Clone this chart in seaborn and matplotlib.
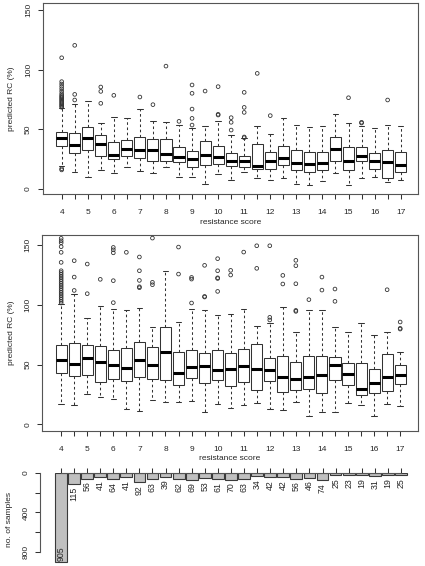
import numpy as np
import pandas as pd
import matplotlib.pyplot as plt
import seaborn as sns

# ─── style ───
sns.set_style('ticks')
plt.rcParams['font.family'] = ['Liberation Sans', 'DejaVu Sans']
plt.rcParams['font.size'] = 6
LINE = '#333333'
FRAME = '#555555'

# ─── data ───
scores = [4, 4.5, 5, 5.5, 6, 6.5, 7, 7.5, 8, 8.5, 9, 9.5, 10, 10.5,
          11, 11.5, 12, 12.5, 13, 13.5, 14, 14.5, 15, 15.5, 16, 16.5, 17]

# upper panel: whisker low, Q1, median, Q3, whisker high, outliers
top_lo = [19, 14, 9.8, 15.6, 13.7, 18.7, 15.1, 13.1, 18.4, 10, 10, 4.2, 12.8, 7.5,
          14, 8.9, 7.5, 9.2, 4.2, 3.6, 6.7, 13.1, 3.4, 9.2, 10, 5.9, 7.3]
top_q1 = [36, 29.9, 32.4, 27.4, 24.9, 27.9, 25.7, 23.2, 23.7, 22.6, 18.7, 20.1, 20.9, 19.6,
          18.2, 17, 16.5, 19.8, 16.2, 14.5, 15.9, 23.2, 16.2, 23.2, 16.8, 9.2, 14]
top_med = [42.7, 36.6, 42.5, 37.7, 28.8, 33.8, 32.4, 32.4, 29.3, 26.5, 24.9, 28.2, 27.1, 23.5,
           23.2, 19.6, 23.7, 26, 21.8, 20.7, 21.5, 33.8, 23.2, 27.7, 23.2, 22.3, 20.1]
top_q3 = [48, 47.2, 52, 45, 39.1, 40.8, 43.3, 41.6, 41.6, 34.9, 32.1, 39.9, 36, 29.9,
          27.9, 37.4, 31, 36.3, 33, 31, 31.3, 43.3, 34.9, 35.5, 30.4, 32.4, 31.3]
top_hi = [67.6, 71.2, 74, 55, 60, 59.5, 66.8, 56.7, 55.9, 53.6, 50.8, 52.5, 56.7, 45,
          42.5, 52.8, 46.1, 59.2, 53.9, 52, 53, 62.6, 55, 52.5, 50.8, 53.4, 53]
top_out = [
    [16, 17, 68.5, 69.5, 70.5, 71.5, 72.5, 73.5, 74.5, 75.5, 76.5, 77.5, 78.5,
     80, 82, 84, 86, 88, 90, 110],
    [74.6, 79.3, 120.4], [], [71.8, 81.8, 85.5], [78.5], [], [77.1], [70.7], [103],
    [56.7], [53.6, 59.2, 67, 80.2, 87.2], [82.1], [62, 62.6, 85.8], [49.4, 55.9, 59.8],
    [43, 43.6, 64.2, 68.4, 81], [96.9], [61.5], [], [], [], [], [], [76.5],
    [55.3, 55.9], [], [74.6], [],
]

# middle panel
mid_lo = [17, 16.4, 25.1, 22.9, 21.2, 13.1, 11.2, 20.1, 18.4, 18.4, 19.2, 10.6, 17.3, 13.4,
          16.2, 18.1, 12.8, 12, 18.7, 7.2, 10.6, 10.6, 17.8, 16.2, 7.2, 17, 15.1]
mid_q1 = [42.7, 40.1, 41, 35.4, 38.2, 36, 39.6, 38.2, 36.8, 32.9, 38.8, 34.6, 37.1, 31.8,
          35.7, 28.4, 36, 27, 28.4, 29.3, 25.9, 37.4, 32.6, 24.3, 26.5, 28.2, 33.5]
mid_med = [54.1, 50.5, 55.8, 52.4, 49.9, 46.8, 53.8, 49.6, 60.2, 42.7, 47.7, 48.8, 45.7, 46,
           48.8, 46.3, 45.7, 39.9, 37.9, 39.3, 41.3, 49.3, 42.4, 29.6, 34.6, 39.9, 41.3]
mid_q3 = [66.3, 68, 66.1, 65.2, 61.9, 63.6, 68.6, 64.4, 81.1, 60.5, 61.9, 59.4, 61.9, 59.4,
          63.3, 66.9, 55.8, 56.9, 51.9, 56.9, 57.4, 56, 51, 51, 46, 58.8, 49.3]
mid_hi = [100.6, 109.3, 88.9, 98.7, 96.7, 95.9, 97, 81.1, 128.2, 85.9, 96.7, 95.6, 91.4, 92.6,
          96.2, 82.5, 84.5, 98.4, 76.9, 95.3, 95.9, 81.4, 76.9, 84.5, 75, 77.5, 60.8]
mid_out = [
    [101.5, 103, 104.5, 106, 107.5, 109, 110.5, 112, 113.5, 115, 116.5, 118, 119.5,
     121, 122.5, 124, 125.5, 127, 128.5, 135.5, 143.9, 148.6, 151.9, 153.6, 155.6],
    [112, 123.2, 136.9], [109.3, 134.1], [121.3], [101.8, 120.2, 143.5, 146, 148],
    [143.9], [114.3, 115.1, 120.4, 128.5, 140], [116.8, 118.8, 155.8], [],
    [125.7, 148.3], [101.5, 121.5, 122.9], [106.5, 107, 133],
    [111.2, 122, 122.6, 128.5, 138.6], [124.9, 128.8], [144.1], [130.5, 149.4],
    [87.3, 89.5, 149.4], [117.4, 124.6], [94.5, 95.3, 117.6, 132.7, 137.2], [104.3],
    [112.3, 123.2], [102.9, 113.2], [], [], [], [112.6], [79.7, 80.3, 85.6],
]

# lower panel: number of samples per score
n_samples = [905, 115, 56, 41, 64, 41, 92, 63, 39, 62, 69, 53, 61, 70, 63, 34, 42, 42,
             56, 46, 74, 25, 23, 19, 31, 19, 25]

W, H = 425, 566
fig = plt.figure(figsize=(W / 100, H / 100), dpi=100)


def px_axes(left, top, right, bottom):
    return fig.add_axes([left / W, 1 - bottom / H, (right - left) / W, (bottom - top) / H])


def box_panel(ax, lo, q1, med, q3, hi, out, ylim):
    # five numbers per group -> seaborn computes the same quartiles with whis=(0, 100)
    rows = [(i, v) for i in range(len(scores)) for v in (lo[i], q1[i], med[i], q3[i], hi[i])]
    df = pd.DataFrame(rows, columns=['grp', 'rc'])
    sns.boxplot(data=df, x='grp', y='rc', ax=ax, orient='x', whis=(0, 100),
                width=0.85, color='white', saturation=1, linecolor=LINE, linewidth=0.75,
                medianprops=dict(color='black', linewidth=2.2),
                whiskerprops=dict(color=LINE, linewidth=0.75, linestyle=(0, (2.5, 2.5))),
                capprops=dict(color=LINE, linewidth=0.75))
    pts = [(i, v) for i, vals in enumerate(out) for v in vals]
    odf = pd.DataFrame(pts, columns=['grp', 'rc'])
    sns.scatterplot(data=odf, x='grp', y='rc', ax=ax, marker='o', s=7,
                    facecolor='none', edgecolor=LINE, linewidth=0.6, legend=False, zorder=3)
    ax.set_xlim(-1.47, 27.33)
    ax.set_ylim(*ylim)
    ax.set_xticks(range(len(scores)))
    ax.set_xticklabels([f'{s:g}' if s == int(s) else '' for s in scores])
    ax.set_yticks([0, 50, 100, 150])
    ax.set_yticklabels(['0', '50', '100', '150'], rotation=90, va='center')
    ax.tick_params(axis='both', length=3.5, width=0.75, color=LINE, labelsize=6)
    ax.tick_params(axis='x', pad=7)
    ax.tick_params(axis='y', pad=4)
    ax.set_xlabel('resistance score', labelpad=2)
    ax.set_ylabel('predicted RC (%)', labelpad=7)
    for sp in ax.spines.values():
        sp.set_visible(True)
        sp.set_color(FRAME)
        sp.set_linewidth(0.8)


ax1 = px_axes(42.5, 3, 418, 194.3)
box_panel(ax1, top_lo, top_q1, top_med, top_q3, top_hi, top_out, (-4.44, 155.9))

ax2 = px_axes(42, 235, 417.5, 431)
box_panel(ax2, mid_lo, mid_q1, mid_med, mid_q3, mid_hi, mid_out, (-5.6, 158.4))

# ─── lower panel: sample counts, hanging bars ───
ax3 = px_axes(40, 473, 418, 566)
sns.barplot(x=list(range(len(scores))), y=n_samples, ax=ax3, orient='x', color='#C0C0C0',
            saturation=1, edgecolor='#3a3a3a', linewidth=0.8, width=0.9, errorbar=None)
ax3.set_xlim(-1.6, 27.3)
ax3.set_ylim(942, 0)
top_n = max(n_samples)
ax3.bar_label(ax3.containers[0], labels=[str(n) if n != top_n else '' for n in n_samples],
              rotation=90, padding=2, fontsize=6.3)
i_top = n_samples.index(top_n)
ax3.annotate(str(top_n), xy=(i_top, top_n), xytext=(0, 1), textcoords='offset points',
             rotation=90, ha='center', va='bottom', fontsize=6.3)
ax3.xaxis.set_ticks_position('top')
ax3.set_xticks(range(len(scores)))
ax3.tick_params(axis='x', labeltop=False, labelbottom=False, length=3.5, width=0.75, color=LINE)
ax3.set_yticks([0, 200, 400, 600, 800])
ax3.set_yticklabels(['0', '', '400', '', '800'], rotation=90, va='center')
ax3.tick_params(axis='y', length=3.5, width=0.75, color=LINE, pad=4, labelsize=6)
ax3.set_xlabel('')
ax3.set_ylabel('no. of samples', labelpad=7)
for side in ['right', 'bottom']:
    ax3.spines[side].set_visible(False)
ax3.spines['top'].set_visible(True)
ax3.spines['top'].set_bounds(0, len(scores) - 1)
ax3.spines['left'].set_bounds(0, 800)
for side in ['top', 'left']:
    ax3.spines[side].set_color(FRAME)
    ax3.spines[side].set_linewidth(0.8)

plt.savefig('out.png', dpi=100)
plt.close()
